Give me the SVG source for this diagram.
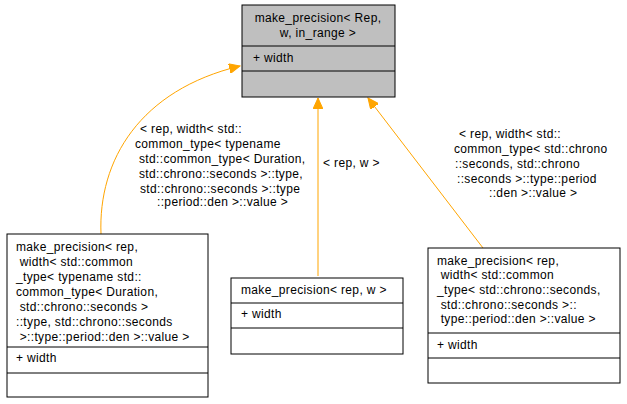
<svg xmlns="http://www.w3.org/2000/svg" width="627" height="404" viewBox="0 0 627 404">
<style>
text{font-family:"Liberation Sans",Arial,sans-serif;font-size:12px;letter-spacing:0.35px;fill:#000}
.b{fill:#fff;stroke:#000;stroke-width:1}
.g{fill:#bfbfbf;stroke:#000;stroke-width:1}
.e{fill:none;stroke:#ffa500;stroke-width:1}
</style>
<defs><marker id="a" markerWidth="12" markerHeight="10" refX="11" refY="5" orient="auto" markerUnits="userSpaceOnUse"><path d="M0,0L11,5L0,10z" fill="#ffa500" stroke="#ffa500"/></marker></defs>
<g id="edges">
<path class="e" d="M101,234C98,160 140,90 240,66" marker-end="url(#a)"/>
<path class="e" d="M318,276V98" marker-end="url(#a)"/>
<path class="e" d="M483,248L368,98" marker-end="url(#a)"/>
<text x="140" y="133">&lt; rep, width&lt; std::</text>
<text x="135" y="148">common_type&lt; typename</text>
<text x="139" y="163">std::common_type&lt; Duration,</text>
<text x="139" y="178">std::chrono::seconds &gt;::type,</text>
<text x="140" y="193">std::chrono::seconds &gt;::type</text>
<text x="157" y="206">::period::den &gt;::value &gt;</text>
<text x="323" y="167">&lt; rep, w &gt;</text>
<text x="459" y="138">&lt; rep, width&lt; std::</text>
<text x="454" y="153">common_type&lt; std::chrono</text>
<text x="455" y="168">::seconds, std::chrono</text>
<text x="457" y="183">::seconds &gt;::type::period</text>
<text x="489" y="197">::den &gt;::value &gt;</text>
</g>
<g id="base">
<rect class="g" x="242" y="5" width="153" height="92"/>
<path d="M242,46H395M242,71H395" stroke="#000"/>
<text x="318" y="22" text-anchor="middle">make_precision&lt; Rep,</text>
<text x="318" y="37" text-anchor="middle">w, in_range &gt;</text>
<text x="253" y="62">+ width</text>
</g>
<g id="left">
<rect class="b" x="7" y="234" width="201" height="163"/>
<path d="M7,347H208M7,373H208" stroke="#000"/>
<text x="16" y="251">make_precision&lt; rep,</text>
<text x="16" y="266" xml:space="preserve"> width&lt; std::common</text>
<text x="16" y="281">_type&lt; typename std::</text>
<text x="16" y="296">common_type&lt; Duration,</text>
<text x="16" y="311" xml:space="preserve"> std::chrono::seconds &gt;</text>
<text x="16" y="326">::type, std::chrono::seconds</text>
<text x="16" y="341" xml:space="preserve"> &gt;::type::period::den &gt;::value &gt;</text>
<text x="16" y="362">+ width</text>
</g>
<g id="mid">
<rect class="b" x="231" y="278" width="172" height="76"/>
<path d="M231,303H403M231,328H403" stroke="#000"/>
<text x="241" y="294">make_precision&lt; rep, w &gt;</text>
<text x="241" y="318">+ width</text>
</g>
<g id="right">
<rect class="b" x="428" y="248" width="192" height="135"/>
<path d="M428,333H620M428,358H620" stroke="#000"/>
<text x="437" y="265">make_precision&lt; rep,</text>
<text x="437" y="279" xml:space="preserve"> width&lt; std::common</text>
<text x="437" y="294">_type&lt; std::chrono::seconds,</text>
<text x="437" y="309" xml:space="preserve"> std::chrono::seconds &gt;::</text>
<text x="437" y="323" xml:space="preserve"> type::period::den &gt;::value &gt;</text>
<text x="437" y="349">+ width</text>
</g>
</svg>
